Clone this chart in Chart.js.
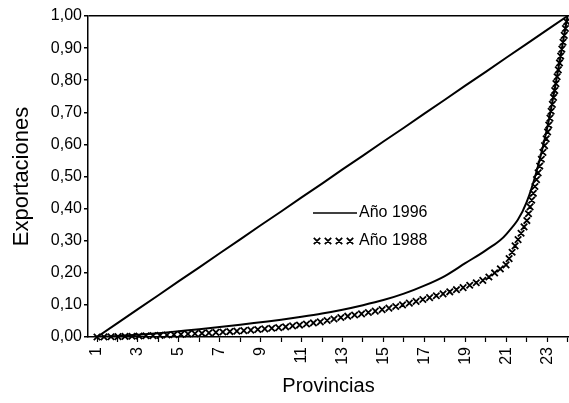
<!DOCTYPE html>
<html><head><meta charset="utf-8">
<script src="https://cdn.jsdelivr.net/npm/chart.js@4.4.1/dist/chart.umd.min.js"></script>
<style>html,body{margin:0;padding:0;background:#fff;overflow:hidden}</style>
</head><body>
<canvas id="c" width="569" height="403"></canvas>
<script>
const categories = ['1','2','3','4','5','6','7','8','9','10','11','12','13','14','15','16','17','18','19','20','21','22','23','24'];
const equality = [0, 0.043, 0.087, 0.130, 0.174, 0.217, 0.261, 0.304, 0.348, 0.391, 0.435, 0.478, 0.522, 0.565, 0.609, 0.652, 0.696, 0.739, 0.783, 0.826, 0.870, 0.913, 0.957, 1.0];
const serie1996 = [0, 0.003, 0.007, 0.012, 0.018, 0.024, 0.031, 0.038, 0.046, 0.054, 0.063, 0.073, 0.085, 0.099, 0.115, 0.135, 0.16, 0.19, 0.23, 0.27, 0.32, 0.42, 0.65, 1.0];
const serie1988 = [0, 0.001, 0.003, 0.005, 0.008, 0.011, 0.015, 0.019, 0.024, 0.030, 0.038, 0.048, 0.062, 0.073, 0.086, 0.101, 0.118, 0.136, 0.156, 0.18, 0.225, 0.36, 0.63, 1.0];
const yTickValues = [0, 0.1, 0.2, 0.3, 0.4, 0.5, 0.6, 0.7, 0.8, 0.9, 1.0];
const legendLabels = ['Año 1996', 'Año 1988'];

const FONT = '"Liberation Sans", Arial, sans-serif';
const toXY = arr => arr.map((v, i) => ({x: Number(categories[i]), y: v}));

function drawCross(ctx, x, y, s) {
  ctx.moveTo(x - s, y - s); ctx.lineTo(x + s, y + s);
  ctx.moveTo(x + s, y - s); ctx.lineTo(x - s, y + s);
}

const crossTrail = {
  id: 'crossTrail',
  afterDatasetsDraw(chart) {
    const pts = chart.getDatasetMeta(2).data;
    const ctx = chart.ctx;
    ctx.save();
    ctx.strokeStyle = '#000'; ctx.lineWidth = 1.8;
    ctx.beginPath();
    const step = 7, s = 3.2;
    let carry = 0;
    for (let i = 0; i < pts.length - 1; i++) {
      const a = pts[i], b = pts[i + 1];
      const dx = b.x - a.x, dy = b.y - a.y, len = Math.hypot(dx, dy);
      let t = carry;
      while (t <= len) {
        drawCross(ctx, a.x + dx * t / len, a.y + dy * t / len, s);
        t += step;
      }
      carry = t - len;
    }
    ctx.stroke();
    ctx.restore();
  }
};

const innerLegend = {
  id: 'innerLegend',
  afterDraw(chart) {
    const ctx = chart.ctx, ca = chart.chartArea;
    const x0 = ca.left + 225, y1 = ca.top + 197, y2 = ca.top + 225;
    ctx.save();
    ctx.strokeStyle = '#000'; ctx.fillStyle = '#000';
    ctx.lineWidth = 1.5;
    ctx.beginPath(); ctx.moveTo(x0, y1); ctx.lineTo(x0 + 44, y1); ctx.stroke();
    ctx.lineWidth = 1.8;
    ctx.beginPath();
    for (let k = 0; k < 4; k++) drawCross(ctx, x0 + 4 + k * 11, y2, 3.2);
    ctx.stroke();
    ctx.font = '16px ' + FONT;
    ctx.textBaseline = 'middle'; ctx.textAlign = 'left';
    ctx.fillText(legendLabels[0], x0 + 46, y1);
    ctx.fillText(legendLabels[1], x0 + 46, y2);
    ctx.restore();
  }
};

function noPad(s) { s.paddingLeft = 0; s.paddingRight = 0; s.paddingTop = 0; s.paddingBottom = 0; }

new Chart(document.getElementById('c'), {
  type: 'line',
  data: {
    datasets: [
      {label: 'Igualdad', data: toXY(equality), borderColor: '#000', borderWidth: 2, pointRadius: 0, tension: 0},
      {label: legendLabels[0], data: toXY(serie1996), borderColor: '#000', borderWidth: 2, pointRadius: 0, cubicInterpolationMode: 'monotone'},
      {label: legendLabels[1], data: toXY(serie1988), borderColor: '#000', showLine: false, pointRadius: 0}
    ]
  },
  options: {
    responsive: false,
    animation: false,
    devicePixelRatio: 1,
    layout: {padding: {top: 16, right: 0, bottom: 0, left: 0}, autoPadding: false},
    plugins: {legend: {display: false}, tooltip: {enabled: false}},
    scales: {
      x: {
        type: 'linear',
        min: 0.56, max: 24.07,
        afterFit: s => { s.height = 66; noPad(s); },
        afterBuildTicks: s => { s.ticks = categories.map(c => ({value: Number(c)})); },
        grid: {drawOnChartArea: false, tickColor: '#000', tickLength: 5, tickWidth: 1.2},
        border: {display: true, color: '#000', width: 1.5},
        ticks: {
          autoSkip: false, minRotation: 90, maxRotation: 90, padding: 5,
          color: '#000', font: {family: FONT, size: 16},
          callback: v => (Number(v) % 2 === 1 ? categories[Number(v) - 1] : '')
        },
        title: {display: true, text: 'Provincias', color: '#000', font: {family: FONT, size: 20}, padding: {top: 0, bottom: 5}}
      },
      y: {
        min: 0, max: 1,
        afterFit: s => { s.width = 88; noPad(s); },
        afterBuildTicks: s => { s.ticks = yTickValues.map(v => ({value: v})); },
        grid: {
          color: c => (c.tick && c.tick.value === 1 ? '#000' : 'rgba(0,0,0,0)'),
          lineWidth: 1.5, tickColor: '#000', tickLength: 4
        },
        border: {display: true, color: '#000', width: 1.5},
        ticks: {
          padding: 2, color: '#000', font: {family: FONT, size: 16},
          callback: v => Number(v).toFixed(2).replace('.', ',')
        },
        title: {display: true, text: 'Exportaciones', color: '#000', font: {family: FONT, size: 22}, padding: {top: 9, bottom: 0}}
      }
    }
  },
  plugins: [crossTrail, innerLegend]
});
</script>
</body></html>
